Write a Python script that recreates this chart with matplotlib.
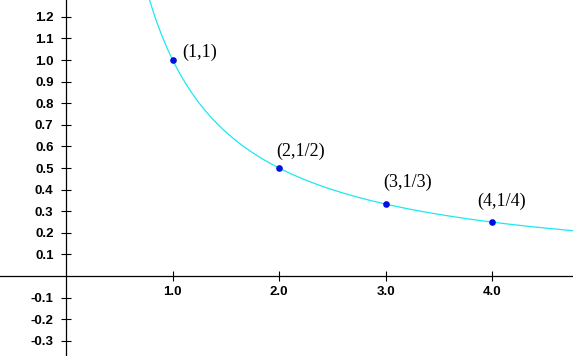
import numpy as np
import matplotlib.pyplot as plt

# Points on y = 1/x and their labels
px = [1, 2, 3, 4]
py = [1.0, 1 / 2, 1 / 3, 1 / 4]
labels = ['(1,1)', '(2,1/2)', '(3,1/3)', '(4,1/4)']

xticks = [1.0, 2.0, 3.0, 4.0]
yticks = [-0.3, -0.2, -0.1, 0.1, 0.2, 0.3, 0.4, 0.5, 0.6, 0.7, 0.8, 0.9, 1.0, 1.1, 1.2]

fig = plt.figure(figsize=(5.73, 3.56), dpi=100)
ax = fig.add_axes([0, 0, 1, 1])
ax.set_xlim(-0.623, 4.762)
ax.set_ylim(-0.370, 1.278)

# Axes crossing at origin
for s in ['top', 'right']:
    ax.spines[s].set_visible(False)
ax.spines['left'].set_position(('data', 0))
ax.spines['bottom'].set_position(('data', 0))
for s in ['left', 'bottom']:
    ax.spines[s].set_linewidth(0.9)
    ax.spines[s].set_color('black')

ax.set_xticks(xticks)
ax.set_xticklabels(['%.1f' % v for v in xticks])
ax.set_yticks(yticks)
ax.set_yticklabels(['%.1f' % v for v in yticks])
ax.tick_params(direction='inout', length=6.7, width=0.8, colors='black',
               labelsize=9.5)
ax.tick_params(axis='x', pad=3.5)
ax.tick_params(axis='y', pad=5.8)
for t in ax.get_xticklabels() + ax.get_yticklabels():
    t.set_fontfamily('Liberation Sans')
    t.set_fontweight('bold')

# Curve
xs = np.linspace(0.75, 4.8, 400)
ax.plot(xs, 1 / xs, color='#1ee8f0', lw=0.9)

# Points
ax.plot(px, py, 'o', color='#0010e0', ms=4.8, mew=0, zorder=3)

offsets = [(10, 3), (-3, 12), (-2, 17), (-15, 16)]
for x, y, lab, off in zip(px, py, labels, offsets):
    ax.annotate(lab, (x, y), xytext=off, textcoords='offset pixels',
                fontfamily='Liberation Serif', fontsize=13,
                ha='left', va='baseline')

plt.savefig('out.png')
